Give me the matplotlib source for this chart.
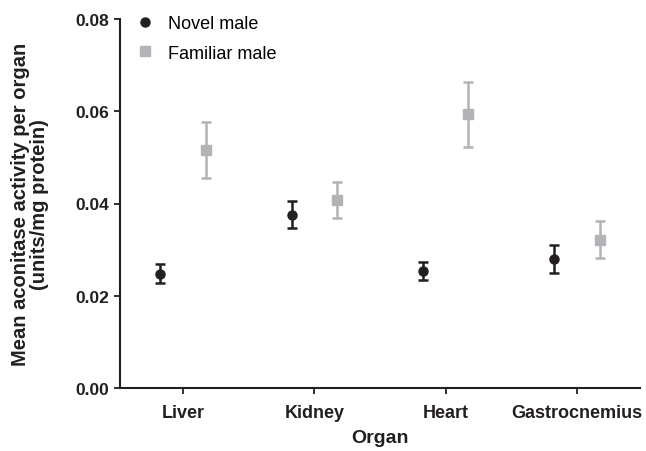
import numpy as np
import matplotlib
matplotlib.use('Agg')
import matplotlib.pyplot as plt

plt.rcParams['font.family'] = ['Liberation Sans', 'DejaVu Sans']

# Data
organs = ['Liver', 'Kidney', 'Heart', 'Gastrocnemius']
novel_mean = [0.0248, 0.0376, 0.0254, 0.0280]
novel_err = [0.0020, 0.0030, 0.0020, 0.0030]
familiar_mean = [0.0516, 0.0407, 0.0593, 0.0321]
familiar_err = [0.0060, 0.0039, 0.0071, 0.0040]

dark = '#231f20'
grey = '#b1b3b6'

fig = plt.figure(figsize=(6.46, 4.52), dpi=100)
ax = fig.add_axes([120 / 646, 1 - 389 / 452, 520 / 646, 369 / 452])

x = np.arange(len(organs))
off = 0.173

ax.errorbar(x - off, novel_mean, yerr=novel_err, fmt='o', color=dark,
            markersize=6.5, elinewidth=1.8, capsize=3.3, capthick=1.8, zorder=3)
ax.errorbar(x + off, familiar_mean, yerr=familiar_err, fmt='s', color=grey,
            markersize=7, elinewidth=1.8, capsize=3.3, capthick=1.8, zorder=3)

# legend shows markers only
h1, = ax.plot([], [], 'o', color=dark, markersize=6.5, label='Novel male')
h2, = ax.plot([], [], 's', color=grey, markersize=7, label='Familiar male')
ax.legend(handles=[h1, h2], loc='upper left', bbox_to_anchor=(0.0, 1.055),
          frameon=False, fontsize=13, handletextpad=0.75, labelspacing=0.7,
          handlelength=1.0)

ax.set_xlim(-0.48, 3.48)
ax.set_ylim(0, 0.08)
ax.set_yticks([0, 0.02, 0.04, 0.06, 0.08])
ax.set_yticklabels(['0.00', '0.02', '0.04', '0.06', '0.08'])
ax.set_xticks(x)
ax.set_xticklabels(organs)

for s in ['top', 'right']:
    ax.spines[s].set_visible(False)
for s in ['left', 'bottom']:
    ax.spines[s].set_linewidth(1.5)
    ax.spines[s].set_color(dark)

ax.tick_params(axis='both', length=4.5, width=1.3, color=dark, labelsize=12.5,
               labelcolor=dark)
ax.tick_params(axis='x', pad=7, labelsize=13)
for lab in ax.get_xticklabels() + ax.get_yticklabels():
    lab.set_fontweight('bold')

ax.set_xlabel('Organ', fontsize=14, fontweight='bold', color=dark, labelpad=6)
ax.set_ylabel('Mean aconitase activity per organ\n(units/mg protein)',
              fontsize=14.5, fontweight='bold', color=dark, labelpad=19,
              linespacing=1.0)

fig.savefig('out.png', dpi=100)
